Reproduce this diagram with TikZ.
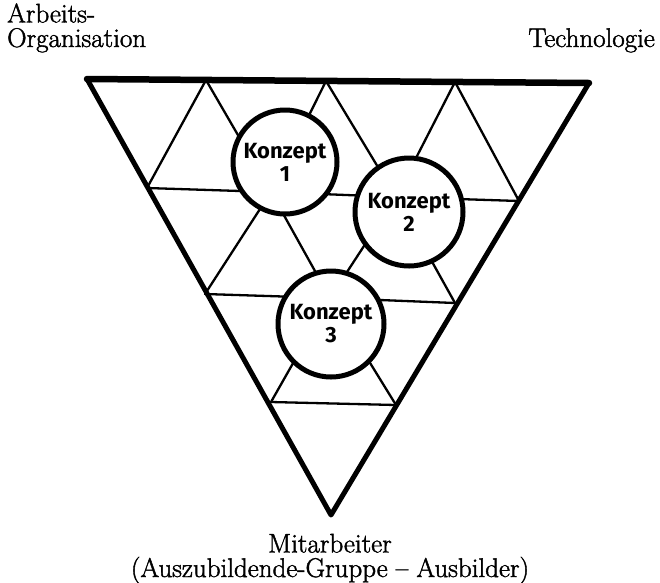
\documentclass[tikz,border=0pt]{standalone}
\usepackage{fontspec}
\newfontfamily\handfont{Fira Sans}
\newfontfamily\labfont{Latin Modern Roman}[Ligatures=TeX,FakeBold=1.6]
\begin{document}
\begin{tikzpicture}[x=1pt,y=-1pt,
  rim/.style={line width=5pt,line join=round,line cap=round},
  grid/.style={line width=2.3pt,line cap=round},
  konzept/.style={circle,draw,line width=5pt,fill=white,inner sep=0pt,
    font=\handfont\bfseries\fontsize{22}{24}\selectfont,align=center},
  label/.style={font=\labfont\fontsize{27}{24.5}\selectfont,inner sep=0pt}]
\useasboundingbox (0,0) rectangle (660,582);

% lattice points of the inverted triangle, row by row
\coordinate (t0) at (87,79);
\coordinate (t1) at (206,80);
\coordinate (t2) at (326,81);
\coordinate (t3) at (455,82);
\coordinate (t4) at (589,83);
\coordinate (a0) at (147,188);
\coordinate (a1) at (271,192);
\coordinate (a2) at (396,197);
\coordinate (a3) at (519,201);
\coordinate (b0) at (205,294);
\coordinate (b1) at (330,298);
\coordinate (b2) at (455,303);
\coordinate (c0) at (271,402);
\coordinate (c1) at (396,405);
\coordinate (apex) at (331,515);

% inner subdivision
\draw[grid] (a0) -- (a1) -- (a2) -- (a3);
\draw[grid] (b0) -- (b1) -- (b2);
\draw[grid] (c0) -- (c1);
\draw[grid] (a0) -- (t1) -- (a1) -- (t2) -- (a2) -- (t3) -- (a3);
\draw[grid] (b0) -- (a1) -- (b1) -- (a2) -- (b2);
\draw[grid] (c0) -- (b1) -- (c1);

% outline
\draw[rim] (t0) -- (t4) -- (apex) -- cycle;
\draw[line width=6.5pt,line cap=round] (t0) -- (t4);

% the three concepts
\node[konzept,minimum size=104pt] (k1) at (285,162) {Konzept\\[-1pt]1};
\node[konzept,minimum size=108pt] (k2) at (409,212) {Konzept\\[-1pt]2};
\node[konzept,minimum size=106pt] (k3) at (331,324) {Konzept\\[-1pt]3};

% corner labels (base anchor sits on the last line)
\node[label,align=left,anchor=base west] (org) at (7,47) {Arbeits-\\Organisation};
\node[label,anchor=base east] (tech) at (655,47) {Technologie};
\node[label,align=center,anchor=base] (mit) at (330,577) {Mitarbeiter\\(Auszubildende-Gruppe – Ausbilder)};
\end{tikzpicture}
\end{document}
